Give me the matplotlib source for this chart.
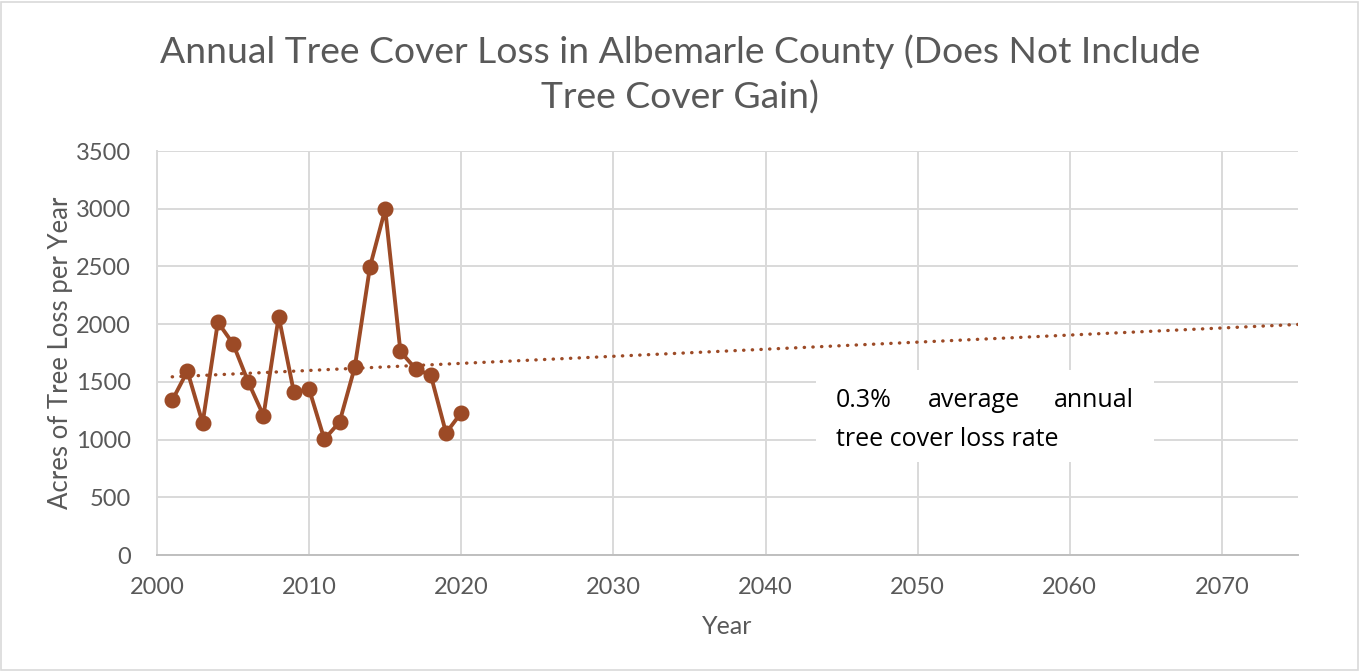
import matplotlib.pyplot as plt
import numpy as np
from matplotlib.patches import Rectangle

plt.rcParams['font.family'] = ['Lato', 'DejaVu Sans']

# data
years = [2001, 2002, 2003, 2004, 2005, 2006, 2007, 2008, 2009, 2010,
         2011, 2012, 2013, 2014, 2015, 2016, 2017, 2018, 2019, 2020]
acres = [1340, 1593, 1144, 2017, 1830, 1498, 1207, 2066, 1409, 1437,
         1002, 1152, 1627, 2497, 2996, 1763, 1613, 1556, 1057, 1233]
x_ticks = [2000, 2010, 2020, 2030, 2040, 2050, 2060, 2070]
y_ticks = [0, 500, 1000, 1500, 2000, 2500, 3000, 3500]

line_color = '#9C4A26'
grid_color = '#D9D9D9'
text_color = '#595959'

W, H = 1360, 671
fig = plt.figure(figsize=(W / 100, H / 100), dpi=100)
ax = fig.add_axes([157 / W, 1 - 555 / H, (1298 - 157) / W, (555 - 151) / H])

# linear trendline, forecast forward to the end of the axis
slope, intercept = np.polyfit(years, acres, 1)
trend_x = np.array([years[0], 2075])
ax.plot(trend_x, slope * trend_x + intercept, color=line_color, lw=2.4,
        linestyle=(0, (0.1, 2.5)), dash_capstyle='round', zorder=3)

ax.plot(years, acres, color=line_color, lw=2.8, marker='o', markersize=10.5,
        zorder=4)

ax.set_xlim(2000, 2075)
ax.set_ylim(0, 3500)
ax.set_xticks(x_ticks)
ax.set_yticks(y_ticks)
ax.grid(True, color=grid_color, lw=1.4)
ax.set_axisbelow(True)
for s in ['top', 'right']:
    ax.spines[s].set_visible(False)
ax.spines['left'].set_color(grid_color)
ax.spines['left'].set_linewidth(1.4)
ax.spines['bottom'].set_color('#BFBFBF')
ax.spines['bottom'].set_linewidth(1.4)
ax.tick_params(length=0, labelsize=17, colors=text_color)
ax.tick_params(axis='x', pad=16)
ax.tick_params(axis='y', pad=19)

ax.set_xlabel('Year', fontsize=18, color=text_color, labelpad=12)
ax.set_ylabel('Acres of Tree Loss per Year', fontsize=18.5, color=text_color,
              labelpad=2)

fig.text(0.5, 1 - 52 / H, 'Annual Tree Cover Loss in Albemarle County (Does Not Include',
         ha='center', va='center', fontsize=26.8, color=text_color)
fig.text(0.5, 1 - 98 / H, 'Tree Cover Gain)', ha='center', va='center',
         fontsize=26.8, color=text_color)

# annotation text box
fig.patches.append(Rectangle((816 / W, 1 - 462 / H), (1154 - 816) / W, 92 / H,
                             transform=fig.transFigure, facecolor='white',
                             edgecolor='none', zorder=5))
box_font = dict(fontsize=18, family=['Open Sans', 'DejaVu Sans'], zorder=6,
                va='center')
fig.text(836 / W, 1 - 401 / H, '0.3%', ha='left', **box_font)
fig.text(974 / W, 1 - 401 / H, 'average', ha='center', **box_font)
fig.text(1134 / W, 1 - 401 / H, 'annual', ha='right', **box_font)
fig.text(836 / W, 1 - 439 / H, 'tree cover loss rate', ha='left', **box_font)

# chart border
fig.patches.append(Rectangle((1 / W, 1 / H), (W - 3) / W, (H - 3) / H,
                             transform=fig.transFigure, facecolor='none',
                             edgecolor='#D9D9D9', lw=1.2))

fig.savefig('out.png', dpi=100)
